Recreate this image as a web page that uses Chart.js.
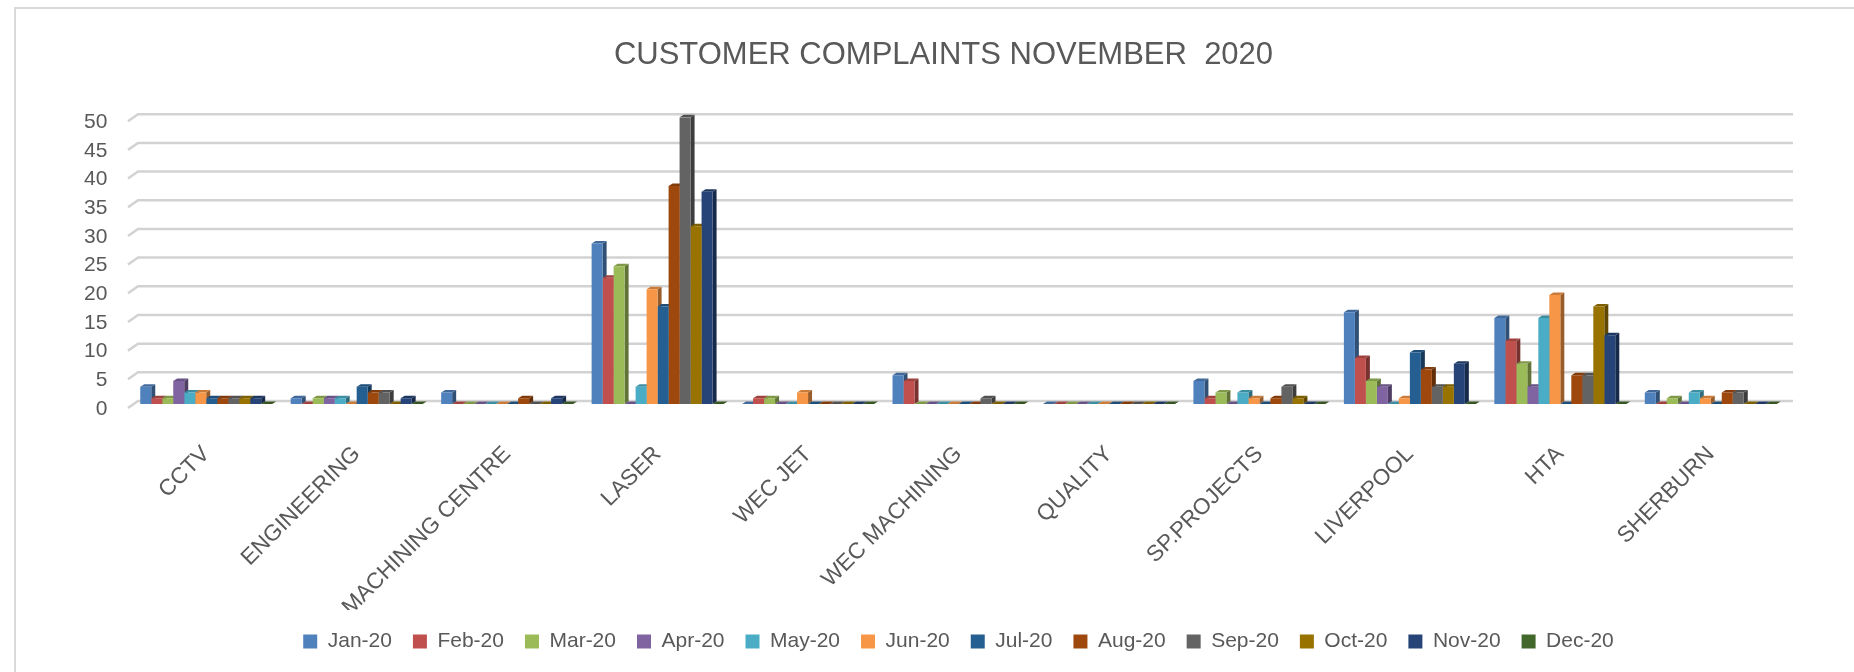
<!DOCTYPE html>
<html lang="en">
<head>
<meta charset="UTF-8">
<title>Customer Complaints November 2020</title>
<script src="https://cdn.jsdelivr.net/npm/chart.js"></script>
<style>
    html, body {
        margin: 0;
        padding: 0;
        background: #ffffff;
        overflow: hidden;
    }
    body {
        width: 1854px;
        height: 672px;
        position: relative;
    }
    /* Excel chart frame, runs off the right and bottom edge */
    #frame {
        position: absolute;
        left: 14px;
        top: 7px;
        width: 1900px;
        height: 700px;
        border-left: 2px solid #d9d9d9;
        border-top: 2px solid #d9d9d9;
    }
    #box {
        position: absolute;
        left: 0;
        top: 0;
        width: 1860px;
        height: 663px;
    }
</style>
</head>
<body>
<div id="frame">
    <div id="box"><canvas id="complaintsChart"></canvas></div>
</div>

<script>
    const departments = ['CCTV', 'ENGINEERING', 'MACHINING CENTRE', 'LASER', 'WEC JET', 'WEC MACHINING',
        'QUALITY', 'SP.PROJECTS', 'LIVERPOOL', 'HTA', 'SHERBURN'];

    const months = ['Jan-20', 'Feb-20', 'Mar-20', 'Apr-20', 'May-20', 'Jun-20',
        'Jul-20', 'Aug-20', 'Sep-20', 'Oct-20', 'Nov-20', 'Dec-20'];

    const monthColors = ['#4F81BD', '#C0504D', '#9BBB59', '#8064A2', '#4BACC6', '#F79646',
        '#255E91', '#9E480E', '#636363', '#997300', '#264478', '#43682B'];

    // one array per month, values in department order
    const jan20 = [3, 1, 2, 28, 0, 5, 0, 4, 16, 15, 2];
    const feb20 = [1, 0, 0, 22, 1, 4, 0, 1, 8, 11, 0];
    const mar20 = [1, 1, 0, 24, 1, 0, 0, 2, 4, 7, 1];
    const apr20 = [4, 1, 0, 0, 0, 0, 0, 0, 3, 3, 0];
    const may20 = [2, 1, 0, 3, 0, 0, 0, 2, 0, 15, 2];
    const jun20 = [2, 0, 0, 20, 2, 0, 0, 1, 1, 19, 1];
    const jul20 = [1, 3, 0, 17, 0, 0, 0, 0, 9, 0, 0];
    const aug20 = [1, 2, 1, 38, 0, 0, 0, 1, 6, 5, 2];
    const sep20 = [1, 2, 0, 50, 0, 1, 0, 3, 3, 5, 2];
    const oct20 = [1, 0, 0, 31, 0, 0, 0, 1, 3, 17, 0];
    const nov20 = [1, 1, 1, 37, 0, 0, 0, 0, 7, 12, 0];
    const dec20 = [null, null, null, null, null, null, null, null, null, null, null];

    const monthValues = [jan20, feb20, mar20, apr20, may20, jun20, jul20, aug20, sep20, oct20, nov20, dec20];

    const yTicks = { min: 0, max: 50, step: 5 };

    const textColor = '#595959';
    Chart.defaults.font.family = "'Liberation Sans', Arial, sans-serif";

    function shade(hex, f) {
        const n = parseInt(hex.slice(1), 16);
        const r = Math.round(((n >> 16) & 255) * f);
        const g = Math.round(((n >> 8) & 255) * f);
        const b = Math.round((n & 255) * f);
        return `rgb(${r}, ${g}, ${b})`;
    }

    // fake Excel 3D look: back wall gridlines and bar side/top faces
    const DEPTH_X = 4, DEPTH_Y = 2.5;
    const excel3d = {
        id: 'excel3d',
        beforeDatasetsDraw(chart) {
            const ctx = chart.ctx;
            const area = chart.chartArea;
            const yScale = chart.scales.y;
            ctx.save();
            // gridlines on the back wall
            for (let v = yTicks.min; v <= yTicks.max; v += yTicks.step) {
                const yp = yScale.getPixelForValue(v);
                ctx.strokeStyle = '#d2d2d2';
                ctx.lineWidth = 2.5;
                ctx.beginPath();
                ctx.moveTo(area.left - 3, yp + 4);
                ctx.lineTo(area.left + 7, yp - 3);
                ctx.lineTo(area.right + 7, yp - 3);
                ctx.stroke();
            }
            // side and top faces, in dataset order so the next bar covers the side
            chart.data.datasets.forEach((ds, i) => {
                const meta = chart.getDatasetMeta(i);
                meta.data.forEach(el => {
                    const p = el.getProps(['x', 'y', 'base', 'width'], true);
                    if (p.y == null || isNaN(p.y)) return;
                    const left = p.x - p.width / 2;
                    const right = p.x + p.width / 2;
                    ctx.fillStyle = shade(ds.backgroundColor, 0.62);
                    ctx.beginPath();
                    ctx.moveTo(right, p.y);
                    ctx.lineTo(right + DEPTH_X, p.y - DEPTH_Y);
                    ctx.lineTo(right + DEPTH_X, p.base - DEPTH_Y);
                    ctx.lineTo(right, p.base);
                    ctx.closePath();
                    ctx.fill();
                    ctx.fillStyle = shade(ds.backgroundColor, 0.82);
                    ctx.beginPath();
                    ctx.moveTo(left, p.y);
                    ctx.lineTo(left + DEPTH_X, p.y - DEPTH_Y);
                    ctx.lineTo(right + DEPTH_X, p.y - DEPTH_Y);
                    ctx.lineTo(right, p.y);
                    ctx.closePath();
                    ctx.fill();
                });
            });
            ctx.restore();
        }
    };

    const datasets = months.map((m, i) => ({
        label: m,
        data: monthValues[i],
        backgroundColor: monthColors[i],
        borderWidth: 0,
        categoryPercentage: 0.877,
        barPercentage: 1.0
    }));

    const ctx = document.getElementById('complaintsChart').getContext('2d');
    const complaintsChart = new Chart(ctx, {
        type: 'bar',
        data: {
            labels: departments,
            datasets: datasets
        },
        plugins: [excel3d],
        options: {
            responsive: true,
            maintainAspectRatio: false,
            animation: false,
            layout: {
                padding: { left: 85, right: 90, top: 0, bottom: 10 }
            },
            plugins: {
                title: {
                    display: true,
                    text: 'CUSTOMER COMPLAINTS NOVEMBER  2020',
                    color: textColor,
                    font: { size: 31, weight: 'normal' },
                    padding: { top: 28, bottom: 43 }
                },
                legend: {
                    position: 'bottom',
                    fullSize: false,
                    labels: {
                        color: textColor,
                        font: { size: 21 },
                        boxWidth: 14,
                        boxHeight: 14,
                        padding: 21
                    }
                },
                tooltip: { enabled: false }
            },
            scales: {
                x: {
                    grid: { display: false },
                    border: { display: false },
                    ticks: {
                        color: textColor,
                        font: { size: 22.5 },
                        minRotation: 45,
                        maxRotation: 45,
                        padding: 29
                    },
                    afterFit: s => { s.height = 206; }
                },
                y: {
                    min: yTicks.min,
                    max: yTicks.max,
                    grid: { display: false },
                    border: { display: false },
                    ticks: {
                        stepSize: yTicks.step,
                        color: textColor,
                        font: { size: 21 },
                        // mirrored so the labels are not clipped to the narrow axis box
                        mirror: true,
                        crossAlign: 'far',
                        padding: -47,
                        labelOffset: 5
                    },
                    afterFit: s => { s.width = 30; }
                }
            }
        }
    });
</script>
</body>
</html>
